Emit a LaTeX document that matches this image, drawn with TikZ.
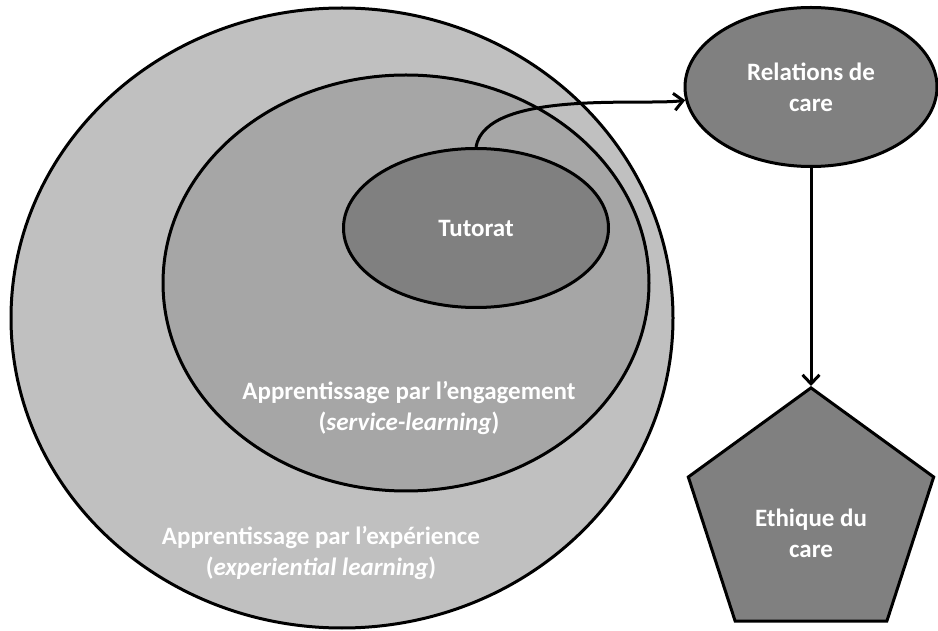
\documentclass[tikz,border=0pt]{standalone}
\usepackage{fontspec}
\setmainfont{Carlito}
\usetikzlibrary{arrows.meta, positioning, shapes.geometric}
\definecolor{lightfill}{HTML}{C0C0C0}
\definecolor{midfill}{HTML}{A6A6A6}
\definecolor{darkfill}{HTML}{808080}

\begin{document}
\begin{tikzpicture}[
    x = 1pt, y = 1pt,
    > = {Straight Barb[length=9pt, width=17pt]}, % arrow head style
    line width = 3pt, % outline thickness
    node distance = 218pt, % distance between nodes
    font = \fontsize{25}{31}\selectfont\bfseries
    ]

    \tikzset{
    blob/.style = {ellipse, draw = black, line width = 3pt, inner sep = 0pt},
    pentagon/.style = {regular polygon, regular polygon sides = 5, draw = black,
        line width = 3pt, fill = darkfill, minimum size = 258pt, inner sep = 0pt},
    txt/.style = {text = white, align = center}
    }

    \useasboundingbox (0,0) rectangle (938,630);

    % nested circles
    \node[blob, fill = lightfill, minimum width = 662pt, minimum height = 620pt] (experience) at (342,312) {};
    \node[blob, fill = midfill, minimum width = 486pt, minimum height = 416pt] (engagement) at (406,347) {};
    \node[blob, fill = darkfill, minimum width = 265pt, minimum height = 159pt, txt] (tutorat) at (476,402) {Tutorat};

    \node[txt] (engtxt) at (409,222) {Apprentissage par l’engagement\\(\textit{service-learning})};
    \node[txt] (exptxt) at (321,77) {Apprentissage par l’expérience\\(\textit{experiential learning})};

    % right column
    \node[blob, fill = darkfill, minimum width = 252pt, minimum height = 159pt, txt] (relations) at (811,543) {Relations de\\care};
    \node[pentagon, label = {[txt, yshift = -16pt]center:{Ethique du\\care}}] (ethique) [below=of relations] {};

    \path[->] (tutorat.north) edge[out=80, in=188, out looseness=0.7, in looseness=0.5] (relations.186);
    \path[->] (relations) edge (ethique);

\end{tikzpicture}
\end{document}
